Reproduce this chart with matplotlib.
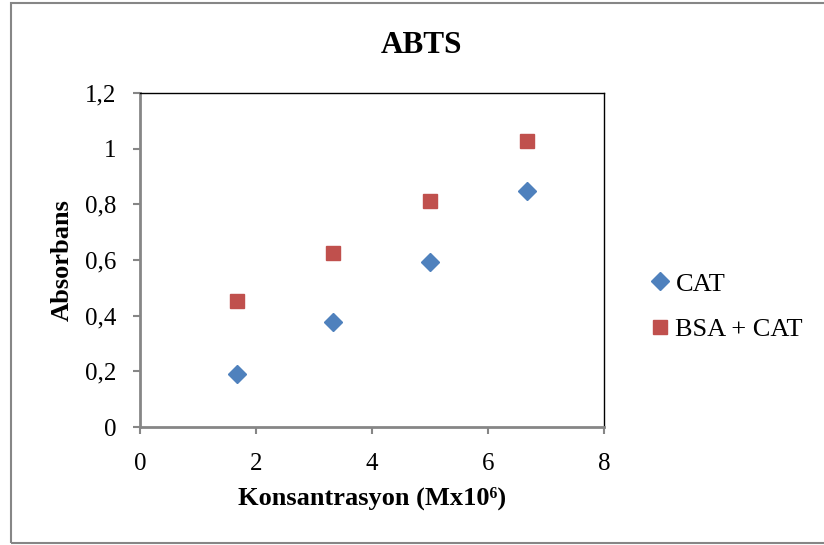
import matplotlib.pyplot as plt
from matplotlib.patches import Rectangle

# Dados
konsantrasyon = [1.667, 3.333, 5.0, 6.667]
cat = [0.19, 0.377, 0.593, 0.847]
bsa_cat = [0.452, 0.625, 0.812, 1.027]

plt.rcParams['font.family'] = 'Liberation Serif'

fig = plt.figure(figsize=(8.24, 5.45), dpi=100)
ax = fig.add_axes([0.1699, 0.2165, 0.5631, 0.6129])

ax.plot(konsantrasyon, cat, linestyle='none', marker='D', markersize=9,
        color='#4F81BD', label='CAT')
ax.plot(konsantrasyon, bsa_cat, linestyle='none', marker='s', markersize=10,
        color='#C0504D', label='BSA + CAT')

ax.set_xlim(0, 8)
ax.set_ylim(0, 1.2)
ax.set_xticks([0, 2, 4, 6, 8])
ax.set_yticks([0, 0.2, 0.4, 0.6, 0.8, 1.0, 1.2])
ax.set_yticklabels(['0', '0,2', '0,4', '0,6', '0,8', '1', '1,2'])
ax.tick_params(labelsize=18, direction='out', length=5, width=1.5,
               color='#868686')
ax.tick_params(axis='x', pad=14)
ax.tick_params(axis='y', pad=12)

for side in ['left', 'bottom']:
    ax.spines[side].set_color('#868686')
    ax.spines[side].set_linewidth(2)
for side in ['top', 'right']:
    ax.spines[side].set_color('black')
    ax.spines[side].set_linewidth(1)

ax.set_xlabel('Konsantrasyon (Mx10⁶)', fontsize=19, fontweight='bold', labelpad=8)
ax.set_ylabel('Absorbans', fontsize=19, fontweight='bold', labelpad=8)
fig.text(0.512, 0.917, 'ABTS', fontsize=22.5, fontweight='bold', ha='center', va='center')

ax.legend(loc='center left', bbox_to_anchor=(1.063, 0.36), frameon=False,
          fontsize=19, handletextpad=0.0, labelspacing=0.85, handlelength=1.2,
          borderaxespad=0)

fig.patches.append(Rectangle((0.0134, 0.003), 1.0, 0.991, transform=fig.transFigure,
                             fill=False, edgecolor='#868686', linewidth=1.5))

plt.savefig('out.png', dpi=100)
